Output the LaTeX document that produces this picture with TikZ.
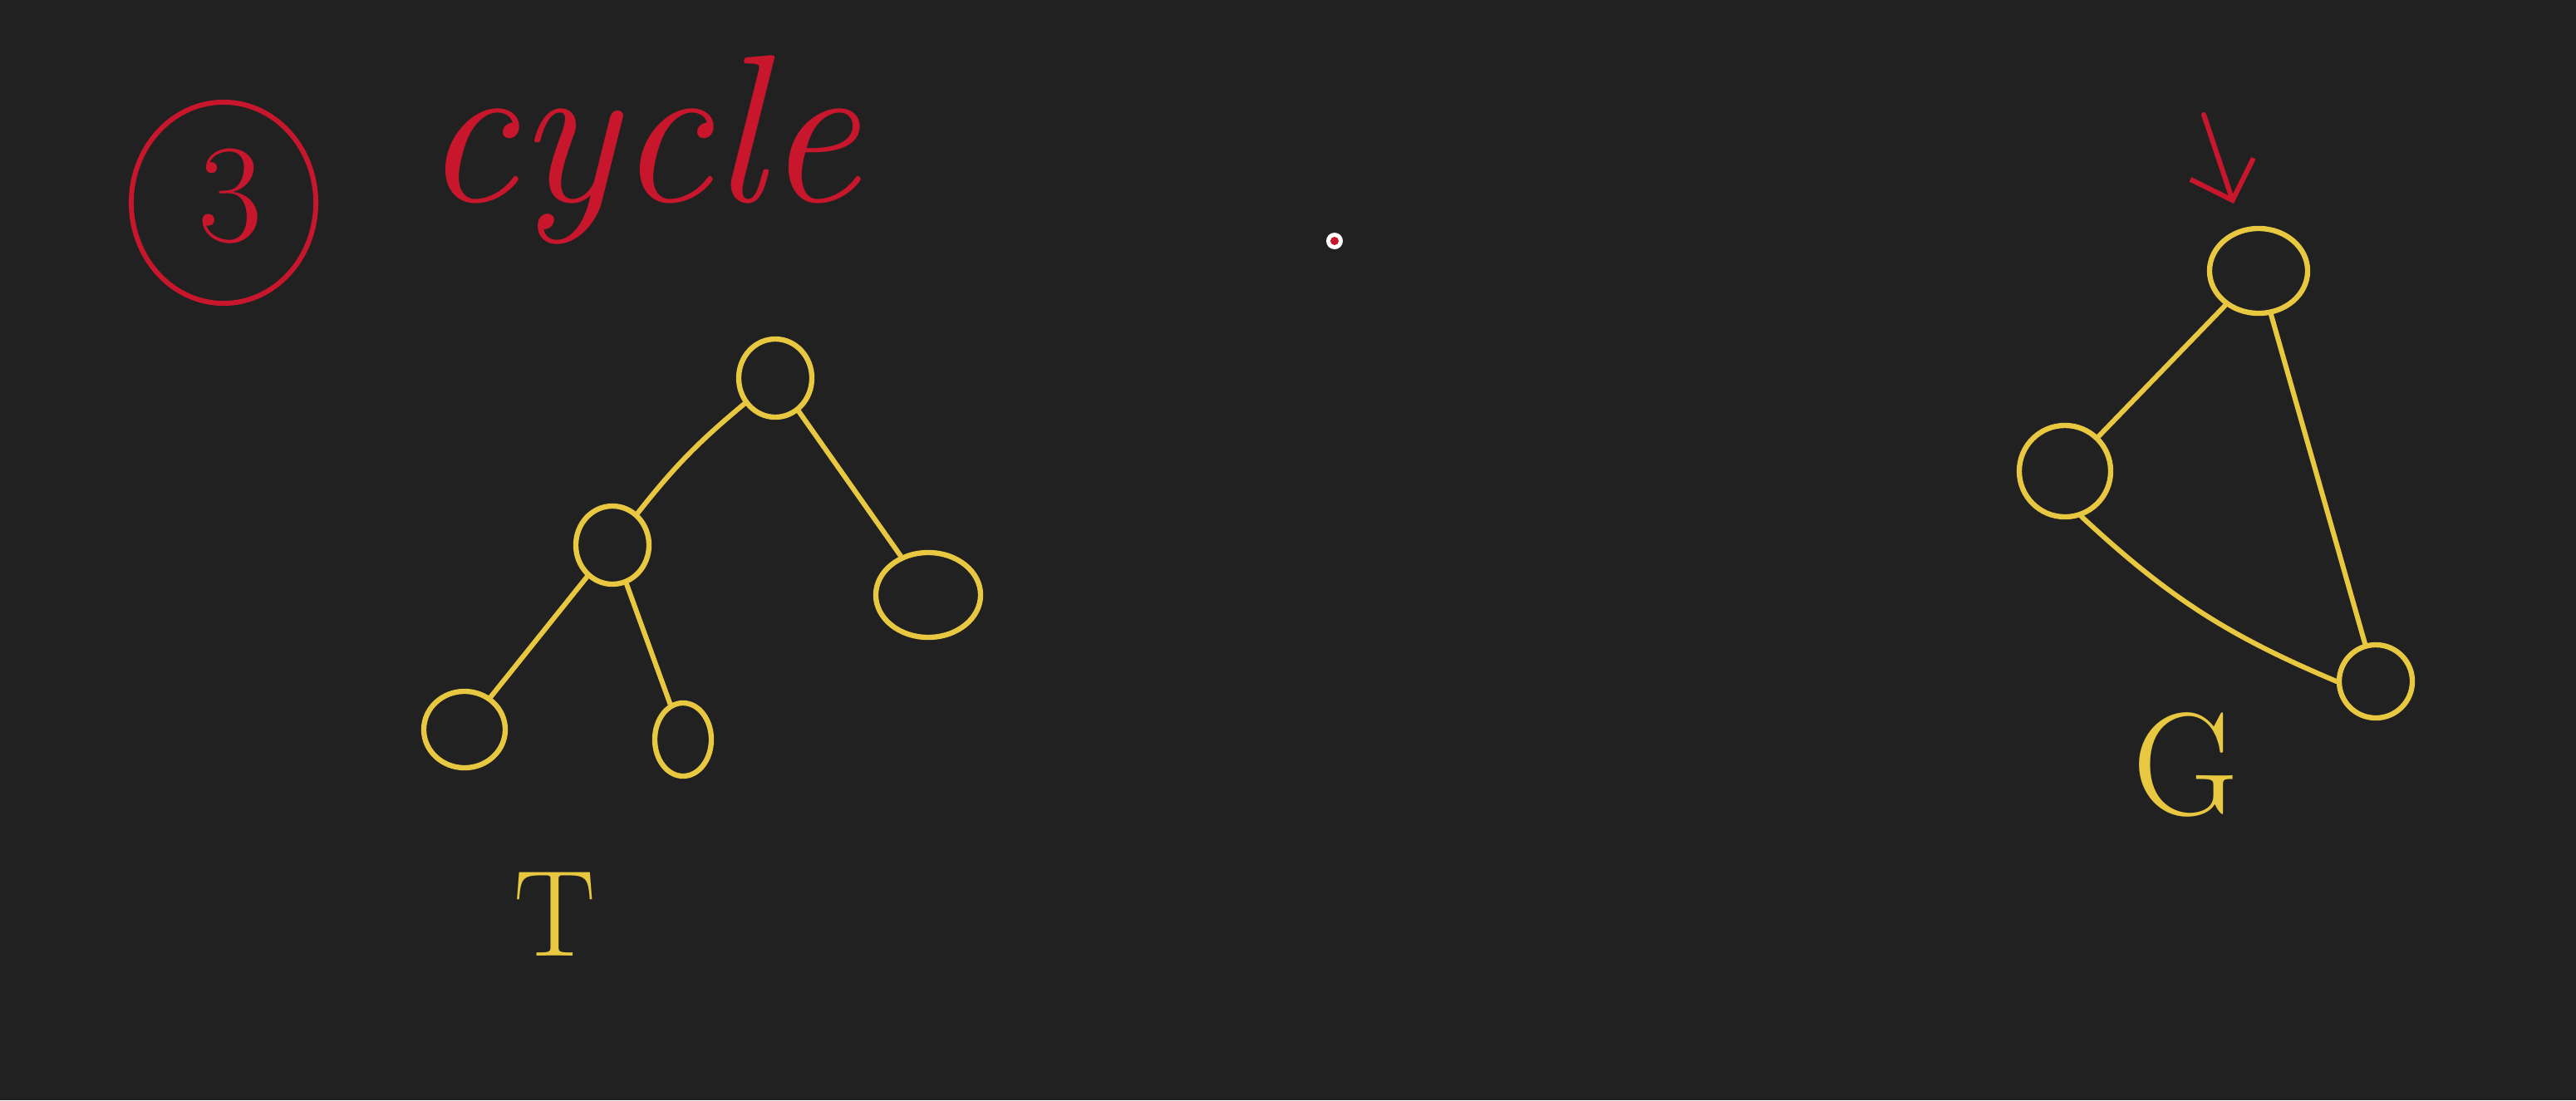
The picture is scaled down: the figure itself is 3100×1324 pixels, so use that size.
\documentclass[tikz,border=0pt]{standalone}
\usetikzlibrary{shapes.geometric,arrows.meta}
\definecolor{bg}{RGB}{33,33,33}
\definecolor{pen}{RGB}{232,200,64}
\definecolor{ink}{RGB}{200,22,44}
\begin{document}
\begin{tikzpicture}[x=0.01cm,y=-0.01cm,
  vert/.style={ellipse,draw=pen,line width=1.8pt,inner sep=0pt},
  edge/.style={draw=pen,line width=1.7pt,line cap=round},
  redink/.style={draw=ink,line width=1.7pt,line cap=round},
  lbl/.style={text=pen,inner sep=0pt},
  rlbl/.style={text=ink,inner sep=0pt}]
\fill[bg] (0,0) rectangle (3100,1324);
\useasboundingbox (0,0) rectangle (3100,1324);
% title
\node[ellipse,redink,minimum width=2.22cm,minimum height=2.42cm] (num) at (269,244) {};
\node[rlbl,font=\fontsize{48}{48}\selectfont] (three) at (277,236) {3};
\node[rlbl,font=\fontsize{72}{72}\selectfont\itshape,anchor=west] (cyc) at (508,180) {cycle};
% tree T
\node[vert,minimum width=0.88cm,minimum height=0.94cm] (r) at (933,455) {};
\node[vert,minimum width=0.88cm,minimum height=0.94cm] (a) at (737,656) {};
\node[vert,minimum width=1.26cm,minimum height=1.02cm] (b) at (1117,716) {};
\node[vert,minimum width=0.98cm,minimum height=0.92cm] (c) at (559,878) {};
\node[vert,minimum width=0.68cm,minimum height=0.88cm] (d) at (822,890) {};
\draw[edge] (r) to[bend right=6] (a);
\draw[edge] (r) -- (b);
\draw[edge] (a) -- (c);
\draw[edge] (a) -- (d);
\node[lbl,font=\fontsize{42}{42}\selectfont] (T) at (668,1100) {T};
% graph G
\node[vert,minimum width=1.18cm,minimum height=1.02cm] (gt) at (2718,326) {};
\node[vert,minimum width=1.10cm,minimum height=1.10cm] (gl) at (2485,567) {};
\node[vert,minimum width=0.88cm,minimum height=0.88cm] (gr) at (2859,820) {};
\draw[edge] (gt) -- (gl);
\draw[edge] (gt) -- (gr);
\draw[edge] (gl.-70) to[bend right=10] (gr.west);
\node[lbl,font=\fontsize{50}{50}\selectfont] (G) at (2630,920) {G};
% red arrow
\coordinate (atail) at (2652,138);
\draw[redink,-{Straight Barb[length=4mm,width=8mm]}] (atail) -- (2688,245) coordinate (atip);
% pointer dot
\fill[white] (1606,290) circle (10);
\fill[ink] (1606,290) circle (5);
\end{tikzpicture}
\end{document}
